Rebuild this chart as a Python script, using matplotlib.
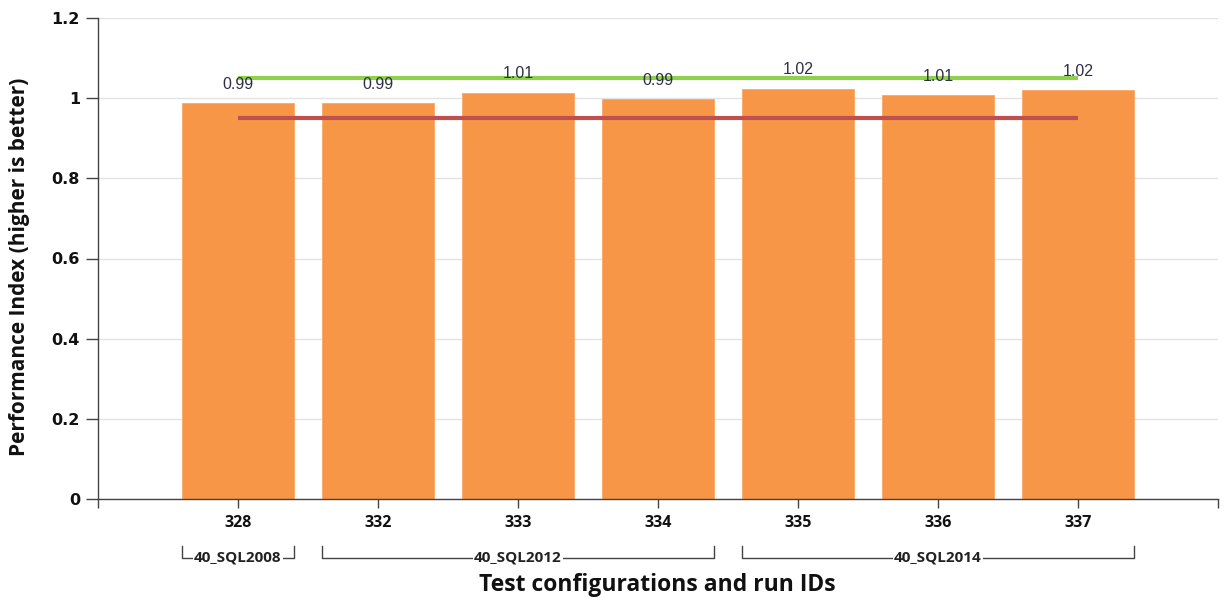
import matplotlib
matplotlib.use("Agg")
import matplotlib.pyplot as plt
import matplotlib.transforms as mtransforms

# data
run_ids = ["328", "332", "333", "334", "335", "336", "337"]
perf_index = [0.987, 0.987, 1.014, 0.997, 1.024, 1.007, 1.020]
value_labels = ["0.99", "0.99", "1.01", "0.99", "1.02", "1.01", "1.02"]
upper_limit = 1.05
lower_limit = 0.95
groups = ["40_SQL2008", "40_SQL2012", "40_SQL2014"]
group_first = [0, 1, 4]
group_last = [0, 3, 6]
y_ticks = [0, 0.2, 0.4, 0.6, 0.8, 1.0, 1.2]
y_tick_labels = ["0", "0.2", "0.4", "0.6", "0.8", "1", "1.2"]

fig = plt.figure(figsize=(12.25, 6.01), dpi=100)
ax = fig.add_axes([98 / 1225, 1 - 499 / 601, 1120 / 1225, 481 / 601])

x = list(range(len(run_ids)))
bar_w = 0.8
ax.bar(x, perf_index, width=bar_w, color="#f79646", edgecolor="#f9a868",
       linewidth=0.6, zorder=2)

# threshold lines
ax.plot([x[0], x[-1]], [upper_limit, upper_limit], color="#8fd14f", lw=3, zorder=3,
        solid_capstyle="butt")
ax.plot([x[0], x[-1]], [lower_limit, lower_limit], color="#c0504d", lw=3, zorder=3,
        solid_capstyle="butt")

for xi, v, lab in zip(x, perf_index, value_labels):
    ax.annotate(lab, (xi, v), xytext=(0, 13.5), textcoords="offset points",
                ha="center", va="center", fontsize=11.5, color="#2e3046",
                family="Liberation Sans", zorder=4)

ax.set_xlim(-1, 7)
ax.set_ylim(0, 1.2)
ax.set_yticks(y_ticks)
ax.set_yticklabels(y_tick_labels, fontsize=11.5, fontweight="bold",
                   family="DejaVu Sans", color="#111111")
ax.set_xticks([-1] + x + [7])
ax.set_xticklabels([""] + run_ids + [""], fontsize=11.5, fontweight="bold",
                   family="Open Sans", color="#111111")
ax.tick_params(axis="y", length=9, width=1, color="#444444", pad=4)
ax.tick_params(axis="x", length=6.5, width=1, color="#444444", pad=5)
ax.yaxis.grid(True, color="#e3e3e3", lw=1, zorder=0)
ax.set_axisbelow(True)
for s in ["top", "right"]:
    ax.spines[s].set_visible(False)
for s in ["left", "bottom"]:
    ax.spines[s].set_color("#444444")
    ax.spines[s].set_linewidth(1)

# group brackets below tick labels
trans = mtransforms.blended_transform_factory(ax.transData, ax.transAxes)
y_top = -47 / 481
y_line = -59 / 481
for name, a, b in zip(groups, group_first, group_last):
    x0 = a - bar_w / 2
    x1 = b + bar_w / 2
    ax.plot([x0, x0, x1, x1], [y_top, y_line, y_line, y_top], color="#444444",
            lw=1, transform=trans, clip_on=False)
    ax.text((x0 + x1) / 2, y_line, name, transform=trans, ha="center", va="center",
            fontsize=11, fontweight="bold", family="Open Sans", color="#222222",
            bbox=dict(facecolor="white", edgecolor="none", pad=1.0))

ax.text(0.499, -86 / 481, "Test configurations and run IDs", transform=ax.transAxes,
        ha="center", va="center", fontsize=16.5, fontweight="bold",
        family="Open Sans", color="#111111")
ax.text(-78 / 1120, 0.482, "Performance Index (higher is better)",
        transform=ax.transAxes, ha="center", va="center", rotation=90,
        fontsize=15, fontweight="bold", family="Open Sans", color="#111111")

fig.savefig("out.png", dpi=100)
